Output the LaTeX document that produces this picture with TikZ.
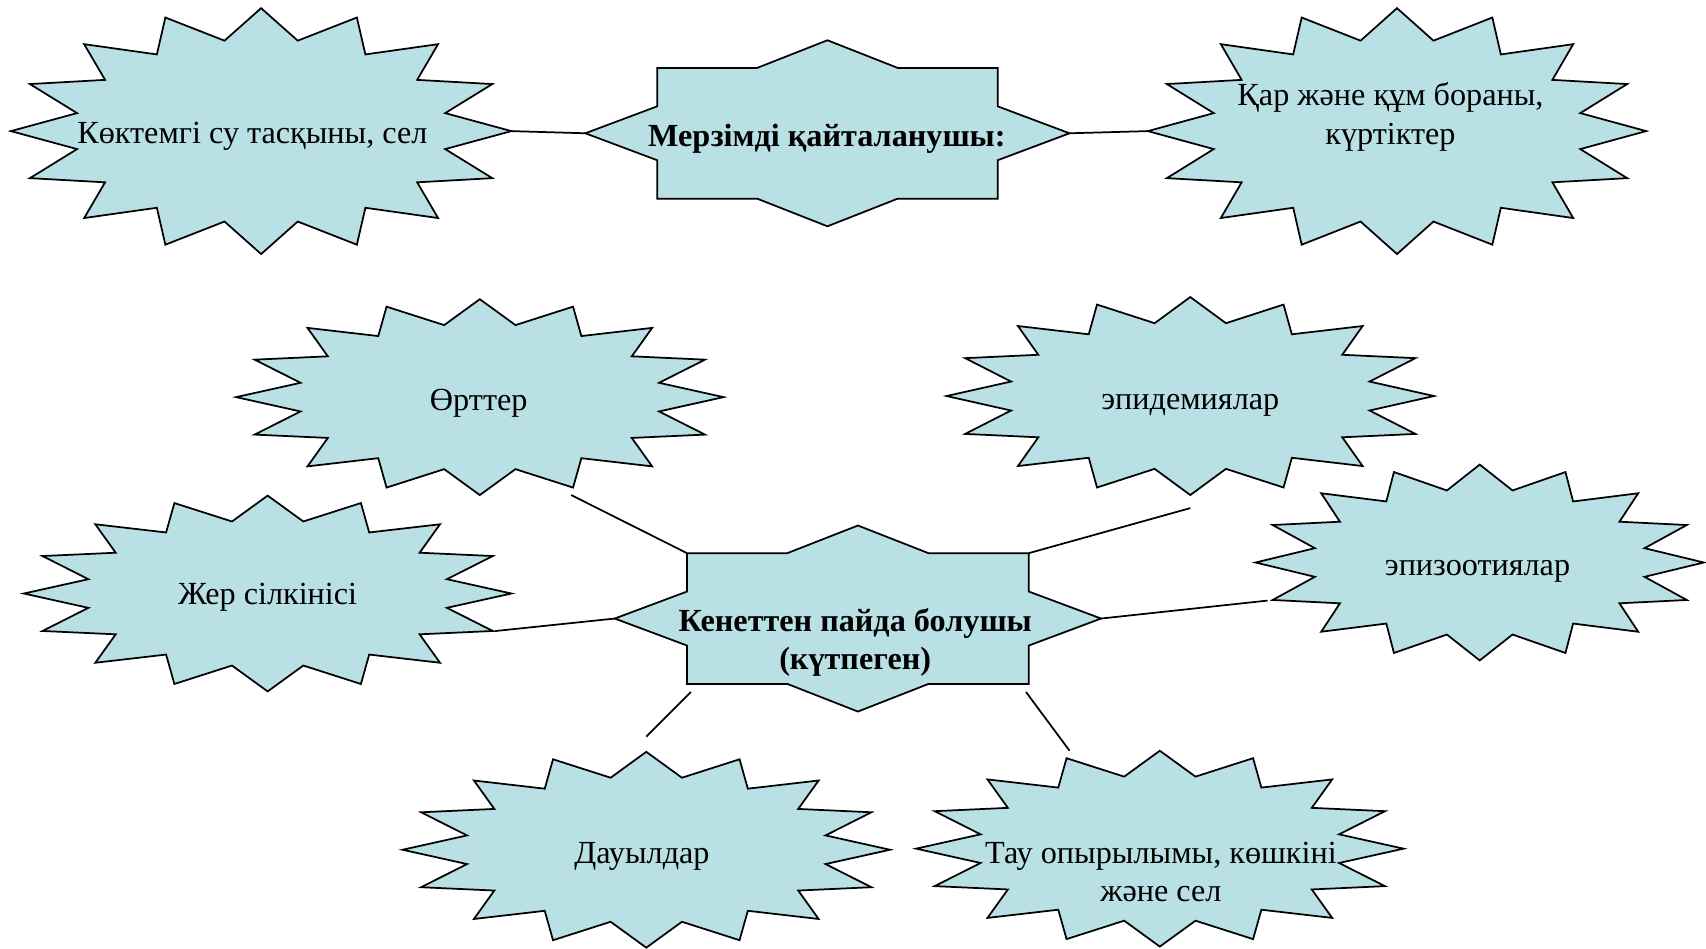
\documentclass[tikz,border=0pt]{standalone}
\usepackage{fontspec}
\setmainfont{Liberation Serif}
\definecolor{burstfill}{RGB}{184,224,229}
\tikzset{
  shapeline/.style={draw=black, fill=burstfill, line width=0.8pt, line join=miter},
  conn/.style={draw=black, line width=0.8pt},
  lbl/.style={font=\fontsize{14.8}{17.8}\selectfont, align=center, inner sep=0pt},
  blbl/.style={lbl, font=\fontsize{14.8}{17.8}\selectfont\bfseries},
}
% 16-point burst: name, cx, cy, rx, ry
\newcommand\burstshape[5]{%
  \begin{scope}[shift={(#2,#3)}, x={({#4*0.5pt},0)}, y={(0,{#5*0.5pt})}]
    \path[shapeline] (0:1) \foreach \i in {1,...,31}{ -- ({\i*11.25}:{1-0.25*mod(\i,2)}) } -- cycle;
    \coordinate (#1-e) at (0:1);
    \coordinate (#1-w) at (180:1);
  \end{scope}}
% rectangle with four spikes: name, cx, cy, a, b
\newcommand\spikebox[5]{%
  \begin{scope}[shift={(#2,#3)}, x={({#4*0.5pt},0)}, y={(0,{#5*0.5pt})}]
    \path[shapeline] (-1,0) -- (-0.703,0.29) -- (-0.703,0.703) -- (-0.29,0.703) -- (0,1)
      -- (0.29,0.703) -- (0.703,0.703) -- (0.703,0.29) -- (1,0) -- (0.703,-0.29)
      -- (0.703,-0.703) -- (0.29,-0.703) -- (0,-1) -- (-0.29,-0.703) -- (-0.703,-0.703)
      -- (-0.703,-0.29) -- cycle;
    \coordinate (#1-w) at (-1,0);
    \coordinate (#1-e) at (1,0);
    \coordinate (#1-nw) at (-0.703,0.703);
    \coordinate (#1-ne) at (0.703,0.703);
    \coordinate (#1-sw) at (-0.703,-0.703);
    \coordinate (#1-se) at (0.703,-0.703);
  \end{scope}}
\begin{document}
\begin{tikzpicture}[x=0.5pt, y=-0.5pt]
\useasboundingbox (0,0) rectangle (1568,872);

% top row
\burstshape{spring}{240}{120.5}{230}{113}
\node[lbl] (springT) at (232,125) {Көктемгі су тасқыны, сел};
\spikebox{top}{760.5}{122.5}{222.5}{85.5}
\node[blbl] (topT) at (760,128) {Мерзімді қайталанушы:};
\burstshape{snow}{1284}{120.5}{229}{113}
\node[lbl] (snowT) at (1278,107.5) {Қар және құм бораны,\\күртіктер};

% lower group
\burstshape{fire}{441}{365}{224}{90}
\node[lbl] (fireT) at (440,371) {Өрттер};
\burstshape{epid}{1094}{364}{224}{91}
\node[lbl] (epidT) at (1094,373) {эпидемиялар};
\burstshape{quake}{246}{545.5}{224}{90}
\node[lbl] (quakeT) at (246,549) {Жер сілкінісі};
\burstshape{epiz}{1360}{517}{206}{90}
\node[lbl] (epizT) at (1358,525) {эпизоотиялар};
\burstshape{storm}{594}{781}{224}{90}
\node[lbl] (stormT) at (590,787) {Дауылдар};
\burstshape{slide}{1066}{780}{224}{90}
\node[lbl] (slideT) at (1067,801.5) {Тау опырылымы, көшкіні\\және сел};

\spikebox{cen}{788.5}{568.5}{223.5}{85.5}
\node[blbl] (cenT) at (786,590.5) {Кенеттен пайда болушы\\(күтпеген)};

% free connector ends
\coordinate (fireEnd) at (525,455);
\coordinate (epidEnd) at (1094,467);
\coordinate (quakeEnd) at (455,580);
\coordinate (epizEnd) at (1165,552);
\coordinate (stormA) at (635,636);
\coordinate (stormB) at (594,677);
\coordinate (slideA) at (943,636);
\coordinate (slideB) at (983,690);

% connectors
\draw[conn] (spring-e) -- (top-w);
\draw[conn] (top-e) -- (snow-w);
\draw[conn] (fireEnd) -- (cen-nw);
\draw[conn] (epidEnd) -- (cen-ne);
\draw[conn] (quakeEnd) -- (cen-w);
\draw[conn] (cen-e) -- (epizEnd);
\draw[conn] (stormA) -- (stormB);
\draw[conn] (slideA) -- (slideB);
\end{tikzpicture}
\end{document}
